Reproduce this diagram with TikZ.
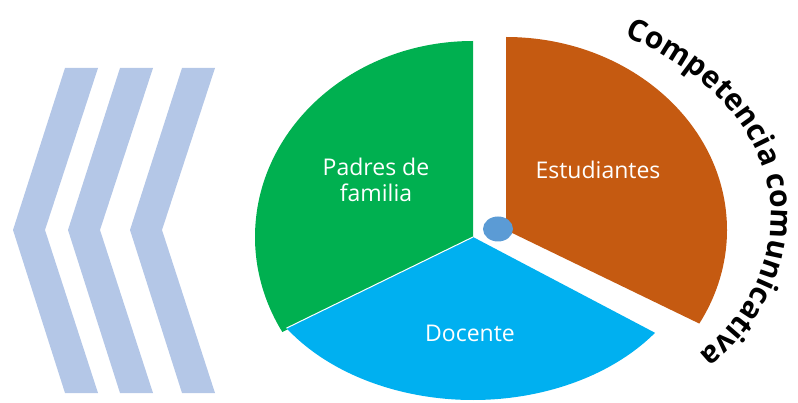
\documentclass[tikz,border=0pt]{standalone}
\usepackage{fontspec}
\setmainfont{Open Sans}
\usetikzlibrary{decorations.text}
\definecolor{padres}{HTML}{00B050}
\definecolor{docente}{HTML}{00B0F0}
\definecolor{estud}{HTML}{C55A11}
\definecolor{hub}{HTML}{5B9BD5}
\definecolor{chevron}{HTML}{B4C7E7}
\newcommand{\labelfont}{\fontsize{23}{26}\selectfont}
\newcommand{\arcfont}{\fontsize{30}{33}\selectfont\bfseries}

\begin{document}
\begin{tikzpicture}[x=1pt,y=1pt,
  lbl/.style={text=white,font=\labelfont,align=center,inner sep=0pt}]
  \useasboundingbox (0,0) rectangle (798,402);
  % chevrons
  \foreach \dx in {0,55,117} {
    \fill[chevron] (65+\dx,334) -- (98+\dx,334) -- (45+\dx,172) -- (98+\dx,9) -- (65+\dx,9) -- (13+\dx,172) -- cycle;
  }
  % pie
  \coordinate (ctr) at (473,165);
  \coordinate (ctrest) at (506,172);
  \fill[padres] (ctr) -- +(0,196) arc[start angle=90,end angle=209,x radius=218pt,y radius=196pt] -- cycle;
  \fill[docente] (ctr) -- +(214:225pt and 163pt) arc[start angle=214,end angle=324,x radius=225pt,y radius=163pt] -- cycle;
  \draw[white,line width=1pt] (ctr) -- +(214:225pt and 163pt);
  \fill[estud] (ctrest) -- +(0,193) arc[start angle=90,end angle=-29,x radius=221pt,y radius=193pt] -- cycle;
  \fill[hub] (498,173) ellipse[x radius=15pt,y radius=12.5pt];
  % labels
  \node[lbl] (padreslbl) at (376,222) {Padres de\\familia};
  \node[lbl] (estudlbl) at (598,232) {Estudiantes};
  \node[lbl] (docentelbl) at (470,69) {Docente};
  % curved title
  \path[decorate,decoration={text along path,text={|\arcfont|Competencia comunicativa},text align=center}]
    (488,185) ++(78:283pt and 206pt) arc[start angle=78,end angle=-60,x radius=283pt,y radius=206pt];
\end{tikzpicture}
\end{document}
